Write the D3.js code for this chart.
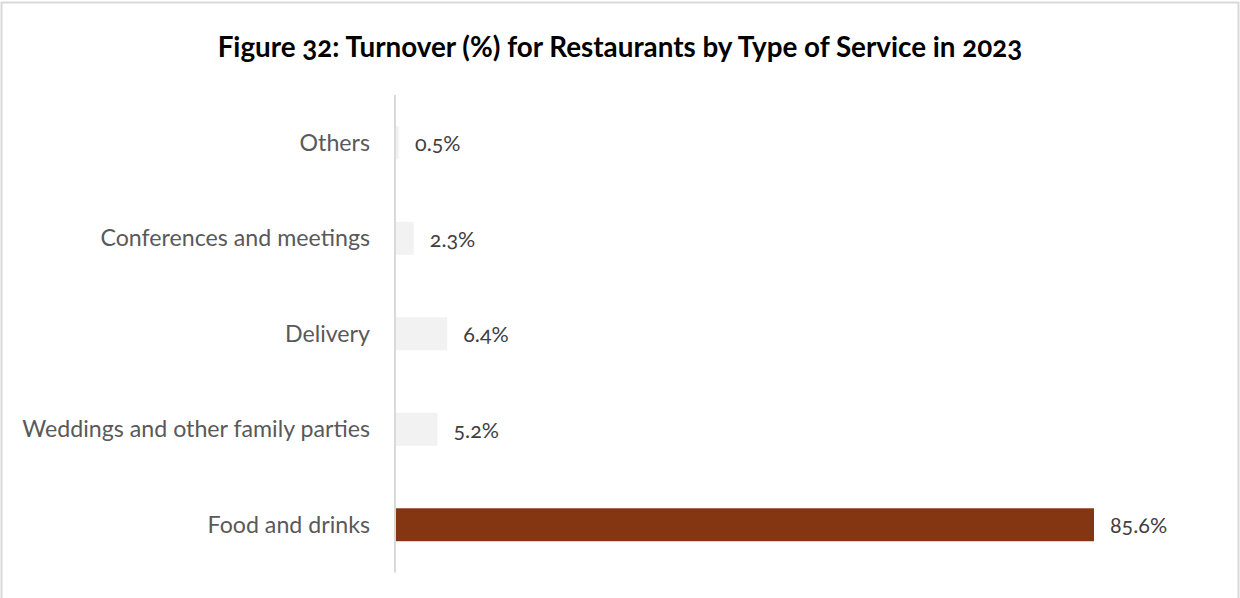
<!DOCTYPE html>
<html>
<head>
<meta charset="utf-8">
<script src="https://cdn.jsdelivr.net/npm/d3@7"></script>
<style>
  html, body { margin: 0; padding: 0; background: #fff; }
  svg { display: block; font-family: Lato, "Open Sans", sans-serif; }
  .num { font-variant-numeric: oldstyle-nums; font-feature-settings: "onum" 1; }
</style>
</head>
<body>
<svg id="chart" width="1240" height="598"></svg>
<script>
// Turnover share by type of service, top row first
const categories = [
  "Others",
  "Conferences and meetings",
  "Delivery",
  "Weddings and other family parties",
  "Food and drinks"
];
const shares = [0.5, 2.3, 6.4, 5.2, 85.6];
const barColors = ["#f2f2f2", "#f2f2f2", "#f2f2f2", "#f2f2f2", "#843511"];
const title = "Figure 32: Turnover (%) for Restaurants by Type of Service in 2023";

const svg = d3.select("#chart");
const W = 1240, H = 598;

// outer frame
svg.append("rect")
  .attr("x", 1.5).attr("y", 2.5)
  .attr("width", W - 3).attr("height", H - 1)
  .attr("fill", "#fff")
  .attr("stroke", "#d9d9d9")
  .attr("stroke-width", 2);

svg.append("text")
  .attr("x", 620).attr("y", 57)
  .attr("text-anchor", "middle")
  .attr("font-size", 27.8)
  .attr("font-weight", "bold")
  .attr("fill", "#000")
  .attr("class", "num")
  .text(title);

const x0 = 395;
const x = d3.scaleLinear().domain([0, 100]).range([x0, x0 + 816.6]);
const y = d3.scaleBand().domain(categories).range([95, 572.5]).paddingInner(0.655).paddingOuter(0.3275);

const rows = categories.map((c, i) => ({ cat: c, value: shares[i], color: barColors[i] }));

svg.selectAll("rect.bar")
  .data(rows)
  .join("rect")
  .attr("class", "bar")
  .attr("x", x(0))
  .attr("y", d => y(d.cat))
  .attr("width", d => x(d.value) - x(0))
  .attr("height", y.bandwidth())
  .attr("fill", d => d.color);

// category axis
const axis = svg.append("g")
  .attr("transform", `translate(${x0},0)`)
  .call(d3.axisLeft(y).tickSize(0).tickPadding(25));
axis.select(".domain").attr("stroke", "#d9d9d9").attr("stroke-width", 2)
  .attr("d", `M0,95V572.5`);
axis.selectAll("text")
  .attr("font-size", 23.2)
  .attr("fill", "#595959")
  .attr("dy", 8)
  .attr("font-family", "Lato, 'Open Sans', sans-serif");

// value labels
svg.selectAll("text.val")
  .data(rows)
  .join("text")
  .attr("class", "val num")
  .attr("x", d => x(d.value) + 16)
  .attr("y", d => y(d.cat) + y.bandwidth() / 2)
  .attr("dy", 8.5)
  .attr("font-size", 21.5)
  .attr("fill", "#404040")
  .text(d => d.value.toFixed(1) + "%");
</script>
</body>
</html>
